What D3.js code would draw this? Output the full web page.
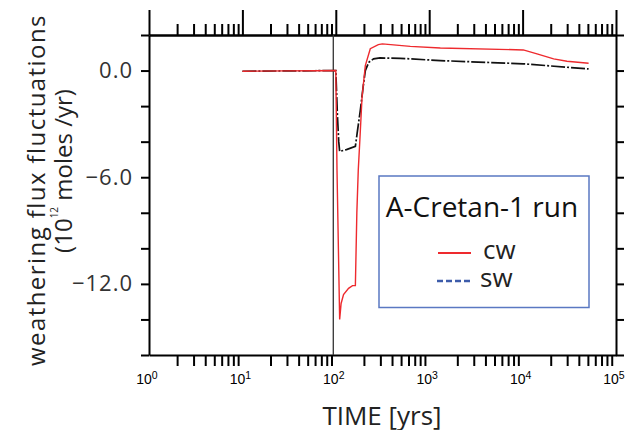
<!DOCTYPE html>
<html>
<head>
<meta charset="utf-8">
<script src="https://cdn.jsdelivr.net/npm/d3@7"></script>
<style>
  html, body { margin: 0; padding: 0; background: #fff; }
  svg { display: block; }
</style>
</head>
<body>
<svg id="chart" width="640" height="430"></svg>
<script>
// ---------------- data ----------------
const cwTime = [10, 30, 60, 100, 103, 110, 114, 121, 137, 151, 162, 168, 174, 181, 191, 207, 234, 285, 315, 628, 1315, 10170, 14260, 21500, 29850, 50900];
const cwFlux = [-0.04, -0.02, -0.01, 0, -5.6, -14.0, -13.1, -12.6, -12.25, -12.1, -12.1, -8.0, -5.6, -3.9, -1.5, 0.28, 1.23, 1.46, 1.50, 1.36, 1.27, 1.16, 0.94, 0.66, 0.52, 0.41];

const swTime = [10, 30, 60, 100, 104, 107.5, 110, 130, 162, 169, 183, 196, 207, 226, 254, 297, 489, 1315, 10170, 50900];
const swFlux = [-0.04, -0.02, -0.01, 0, -2.5, -4.0, -4.55, -4.45, -4.26, -3.55, -2.24, -0.94, 0.0, 0.47, 0.66, 0.71, 0.69, 0.56, 0.38, 0.09];

const eventTime = [94];

const xDomain = [1, 1e5];
const yDomain = [-16, 2];
const yTickValues = [2, 0, -2, -4, -6, -8, -10, -12, -14, -16];
const yLabelValues = [0, -6, -12];
const xLabelExponents = [0, 1, 2, 3, 4, 5];
const seriesNames = ["cw", "sw"];
const legendTitle = "A-Cretan-1 run";
const xTitle = "TIME [yrs]";
const yTitle1 = "weathering flux  fluctuations";

// ---------------- layout ----------------
const svg = d3.select("#chart");
const L = 149, R = 616, T = 35, B = 355;
const x = d3.scaleLog().domain(xDomain).range([L, R]);
const y = d3.scaleLinear().domain(yDomain).range([B, T]);

const majorTicks = xLabelExponents.map(e => Math.pow(10, e));
const minorTicks = [];
for (let e = 0; e < 5; e++) for (let m = 2; m <= 9; m++) minorTicks.push(m * Math.pow(10, e));

const axisColor = "#000";
const axisW = 2;

function styleAxis(g) {
  g.selectAll("path.domain").attr("stroke", axisColor).attr("stroke-width", axisW);
  g.selectAll(".tick line").attr("stroke", axisColor).attr("stroke-width", axisW);
}

function fitSpacing(sel, target) {
  const node = sel.node();
  const len = node.getComputedTextLength();
  const n = node.textContent.length;
  if (n > 1) sel.attr("letter-spacing", (target - len) / (n - 1));
}

// top axis: minor + major ticks, no labels
const gTopMinor = svg.append("g").attr("transform", `translate(0,${T})`)
  .call(d3.axisTop(x).tickValues(minorTicks).tickSize(11).tickSizeOuter(0).tickFormat(""));
styleAxis(gTopMinor);
const gTopMajor = svg.append("g").attr("transform", `translate(0,${T})`)
  .call(d3.axisTop(x).tickValues(majorTicks).tickSize(25).tickSizeOuter(0).tickFormat(""));
styleAxis(gTopMajor);

// bottom axis: minor ticks only
const gBot = svg.append("g").attr("transform", `translate(0,${B})`)
  .call(d3.axisBottom(x).tickValues(minorTicks).tickSize(11).tickSizeOuter(0).tickFormat(""));
styleAxis(gBot);

// bottom labels with superscripts
const xl = svg.append("g").attr("font-family", "'Liberation Sans', Arial, sans-serif").attr("fill", "#000");
xLabelExponents.forEach(e => {
  const t = xl.append("text")
    .attr("x", x(Math.pow(10, e)) - 2)
    .attr("y", 384)
    .attr("text-anchor", "middle")
    .attr("font-size", 14);
  t.append("tspan").text("10");
  t.append("tspan").attr("font-size", 10.5).attr("dy", -5.5).text(String(e));
});

// left axis
const fmt = d3.format(".1f");
const gLeft = svg.append("g").attr("transform", `translate(${L},0)`)
  .call(d3.axisLeft(y).tickValues(yTickValues).tickSize(8).tickSizeOuter(0).tickPadding(8)
    .tickFormat(d => yLabelValues.includes(d) ? fmt(d) : ""));
styleAxis(gLeft);
gLeft.selectAll(".tick text")
  .attr("font-family", "'Open Sans', sans-serif")
  .attr("font-size", 22)
  .attr("letter-spacing", 1)
  .attr("fill", "#333");

// right axis
const gRight = svg.append("g").attr("transform", `translate(${R},0)`)
  .call(d3.axisRight(y).tickValues(yTickValues).tickSize(8).tickSizeOuter(0).tickFormat(""));
styleAxis(gRight);

// ---------------- event line ----------------
svg.append("g").selectAll("line").data(eventTime).join("line")
  .attr("x1", d => x(d)).attr("x2", d => x(d))
  .attr("y1", T).attr("y2", B)
  .attr("stroke", "#333").attr("stroke-width", 1.3);

// ---------------- series ----------------
const line = d3.line().x(d => x(d[0])).y(d => y(d[1]));
const swData = swTime.map((t, i) => [t, swFlux[i]]);
const cwData = cwTime.map((t, i) => [t, cwFlux[i]]);

svg.append("path").datum(swData)
  .attr("d", line).attr("fill", "none")
  .attr("stroke", "#111").attr("stroke-width", 1.7)
  .attr("stroke-dasharray", "14,2,2,2");

svg.append("path").datum(cwData)
  .attr("d", line).attr("fill", "none")
  .attr("stroke", "#ee2a2e").attr("stroke-width", 1.4);

// ---------------- legend ----------------
const lg = svg.append("g");
lg.append("rect").attr("x", 379).attr("y", 176).attr("width", 210).attr("height", 131.5)
  .attr("fill", "#fff").attr("stroke", "#5a78c2").attr("stroke-width", 1.5);
lg.append("text").attr("x", 482).attr("y", 217).attr("text-anchor", "middle")
  .attr("font-family", "'Open Sans', sans-serif").attr("font-size", 28)
  .attr("fill", "#111").text(legendTitle);
lg.append("line").attr("x1", 438).attr("x2", 471).attr("y1", 253).attr("y2", 253)
  .attr("stroke", "#ee2a2e").attr("stroke-width", 2.2);
lg.append("line").attr("x1", 437).attr("x2", 472).attr("y1", 281).attr("y2", 281)
  .attr("stroke", "#3d5caa").attr("stroke-width", 2.5).attr("stroke-dasharray", "6,3");
lg.append("text").attr("x", 483).attr("y", 258.5)
  .attr("font-family", "'Open Sans', sans-serif").attr("font-size", 26)
  .attr("fill", "#222").text(seriesNames[0]);
lg.append("text").attr("x", 480).attr("y", 287)
  .attr("font-family", "'Open Sans', sans-serif").attr("font-size", 26)
  .attr("fill", "#222").text(seriesNames[1]);

// ---------------- titles ----------------
svg.append("text").attr("x", 382).attr("y", 425).attr("text-anchor", "middle")
  .attr("font-family", "'Open Sans', sans-serif").attr("font-size", 26)
  .attr("fill", "#222").text(xTitle);

const yt1 = svg.append("text")
  .attr("transform", "translate(45,190) rotate(-90)")
  .attr("text-anchor", "middle")
  .attr("font-family", "'Open Sans', sans-serif").attr("font-size", 24)
  .attr("fill", "#222").text(yTitle1);
fitSpacing(yt1, 352);

const yt2 = svg.append("text")
  .attr("transform", "translate(72,171) rotate(-90)")
  .attr("text-anchor", "middle")
  .attr("font-family", "'Open Sans', sans-serif").attr("font-size", 24)
  .attr("fill", "#222");
yt2.append("tspan").text("(10");
yt2.append("tspan").attr("font-size", 10).attr("dy", -14).text("12");
yt2.append("tspan").attr("dy", 14).text(" moles /yr)");
</script>
</body>
</html>
